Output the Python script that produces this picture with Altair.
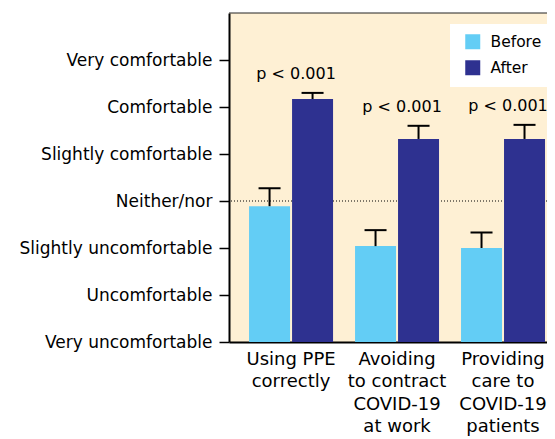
import altair as alt
import pandas as pd

categories = ["Using PPE|correctly", "Avoiding|to contract|COVID-19|at work", "Providing|care to|COVID-19|patients"]
periods = ["Before", "After"]
before_vals = [3.89, 3.04, 3.00]
before_upper = [4.27, 3.38, 3.33]
after_vals = [6.17, 5.32, 5.32]
after_upper = [6.30, 5.60, 5.62]
p_labels = ["p < 0.001", "p < 0.001", "p < 0.001"]
levels = ["Very uncomfortable", "Uncomfortable", "Slightly uncomfortable", "Neither/nor",
          "Slightly comfortable", "Comfortable", "Very comfortable"]
colors = ["#63CDF5", "#2E3190"]
bg = "#FEF0D4"
FONT = "DejaVu Sans"

rows = []
for i, c in enumerate(categories):
    rows.append({"category": c, "period": "Before", "value": before_vals[i], "upper": before_upper[i]})
    rows.append({"category": c, "period": "After", "value": after_vals[i], "upper": after_upper[i]})
df = pd.DataFrame(rows)
pdf = pd.DataFrame({"category": categories, "label": p_labels, "upper": after_upper})

label_expr = "[" + ",".join(["''"] + ["'" + l + "'" for l in levels]) + "][datum.value]"

x_enc = alt.X("category:N", sort=categories,
              scale=alt.Scale(paddingInner=0.2075, paddingOuter=0.104, align=0.91),
              axis=alt.Axis(title=None, labelAngle=0, ticks=False, domainColor="black", domainWidth=2,
                            labelExpr="split(datum.label, '|')", labelFontSize=18, labelLineHeight=22.5,
                            labelPadding=8, labelBaseline="top", labelColor="black", labelFont=FONT,
                            labelLimit=0))
xo_enc = alt.XOffset("period:N", sort=periods, scale=alt.Scale(paddingInner=0.0465, paddingOuter=0))
y_scale = alt.Scale(domain=[1, 8], nice=False, zero=False)
y_enc = alt.Y("value:Q", scale=y_scale,
              axis=alt.Axis(title=None, values=list(range(1, 8)), labelExpr=label_expr, grid=False,
                            domainColor="black", domainWidth=2, tickColor="black", tickWidth=1.5,
                            tickSize=10, labelPadding=7, labelFontSize=17, labelColor="black",
                            labelFont=FONT, labelLimit=0))

dotted = alt.Chart(pd.DataFrame({"y": [4]})).mark_rule(
    color="black", strokeDash=[1, 2], strokeWidth=1.2).encode(y=alt.Y("y:Q", scale=y_scale))

top_line = alt.Chart(pd.DataFrame({"y": [8]})).mark_rule(
    color="#222", strokeWidth=1).encode(y=alt.Y("y:Q", scale=y_scale))

bars = alt.Chart(df).mark_bar().encode(
    x=x_enc, xOffset=xo_enc, y=y_enc, y2=alt.datum(1),
    color=alt.Color("period:N", sort=periods, scale=alt.Scale(domain=periods, range=colors),
                    legend=alt.Legend(title=None, orient="none", legendX=221, legendY=11,
                                      fillColor="white", padding=10, symbolOffset=5, symbolType="square",
                                      symbolSize=225, symbolStrokeWidth=0, symbolOpacity=1,
                                      labelFontSize=15.5, labelFont=FONT, labelColor="black",
                                      rowPadding=9, labelOffset=10)))

err = alt.Chart(df).mark_rule(color="black", strokeWidth=2).encode(
    x=alt.X("category:N", sort=categories), xOffset=alt.XOffset("period:N", sort=periods),
    y=alt.Y("value:Q", scale=y_scale), y2="upper:Q")

caps = alt.Chart(df).mark_tick(color="black", thickness=2, size=22, opacity=1).encode(
    x=alt.X("category:N", sort=categories), xOffset=alt.XOffset("period:N", sort=periods),
    y=alt.Y("upper:Q", scale=y_scale))

ptext = alt.Chart(pdf).mark_text(fontSize=16, font=FONT, color="black", dy=-14, dx=5,
                                 baseline="alphabetic").encode(
    x=alt.X("category:N", sort=categories), y=alt.Y("upper:Q", scale=y_scale), text="label:N")

chart = alt.layer(dotted, top_line, bars, err, caps, ptext).properties(
    width=318, height=329,
    autosize=alt.AutoSizeParams(type="none"),
    padding={"left": 221, "top": 5, "right": 0, "bottom": 97},
).configure_view(fill=bg, stroke=None)

chart.save("out.html", embed_options={"renderer": "svg", "actions": False})
